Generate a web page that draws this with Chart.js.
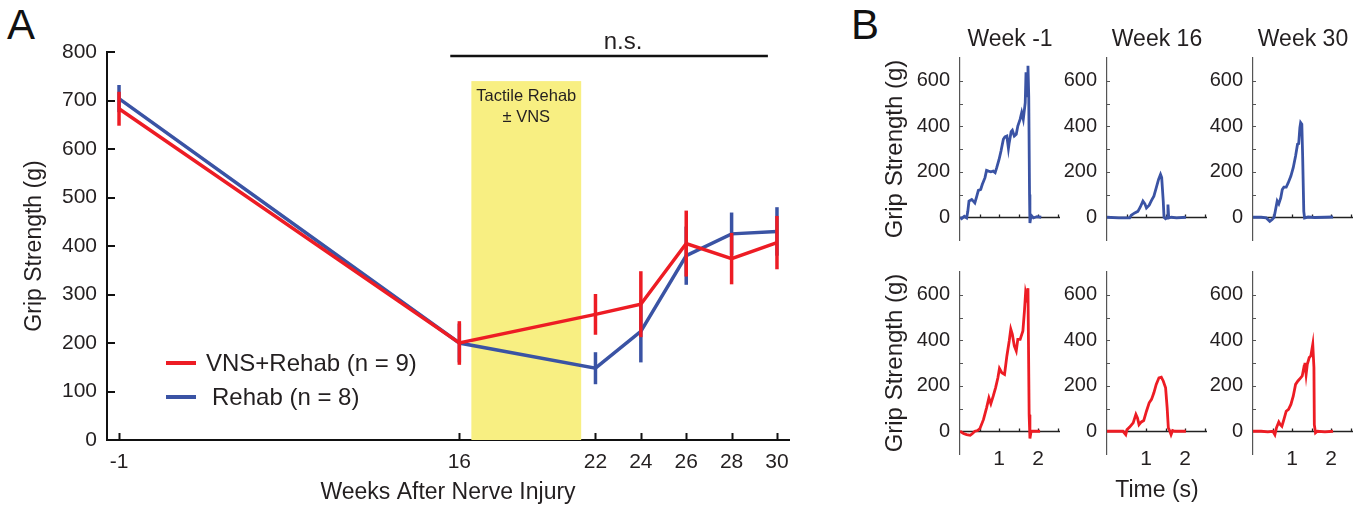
<!DOCTYPE html>
<html><head><meta charset="utf-8">
<script src="https://cdn.jsdelivr.net/npm/chart.js@4"></script>
<style>
html,body{margin:0;padding:0;background:#fff;}
body{width:1368px;height:510px;overflow:hidden;position:relative;font-family:"Liberation Sans",Arial,sans-serif;}
canvas{position:absolute;}
.lbl{position:absolute;font-size:42px;color:#111;line-height:1;}
</style></head><body>
<div class="lbl" style="left:7px;top:4px">A</div>
<div class="lbl" style="left:851px;top:4px">B</div>
<canvas id="cA" width="840" height="510" style="left:0;top:0;width:840px;height:510px"></canvas>
<canvas id="b1" width="195" height="240" style="left:880px;top:20px;width:195px;height:240px"></canvas>
<canvas id="b2" width="195" height="240" style="left:1027px;top:20px;width:195px;height:240px"></canvas>
<canvas id="b3" width="195" height="240" style="left:1173px;top:20px;width:195px;height:240px"></canvas>
<canvas id="b4" width="195" height="246" style="left:880px;top:264px;width:195px;height:246px"></canvas>
<canvas id="b5" width="195" height="246" style="left:1027px;top:264px;width:195px;height:246px"></canvas>
<canvas id="b6" width="195" height="246" style="left:1173px;top:264px;width:195px;height:246px"></canvas>
<script>
// ---------- Panel A data ----------
const weekLabels = ['-1','16','22','24','26','28','30'];
const weekPos    = [1, 16, 22, 24, 26, 28, 30];
const vnsMean    = [683, 200, 259, 280, 405, 374, 407];
const vnsSem     = [35, 45, 42, 68, 68, 53, 55];
const rehabMean  = [704, 200, 148, 224, 380, 425, 430];
const rehabSem   = [28, 40, 33, 64, 60, 44, 50];
const seriesNames = ['VNS+Rehab (n = 9)', 'Rehab (n = 8)'];
const bandRange = [16.53, 21.37];
const bandTop = 740;
const bandText = ['Tactile Rehab', '\u00b1 VNS'];
const nsRange = [15.6, 29.6];
const nsLevel = 792;
const nsText = 'n.s.';

// ---------- Panel B data (time s, grip g) ----------
const weekTitles = ['Week -1', 'Week 16', 'Week 30'];
const bW1T = [0,0.04,0.11,0.17,0.20,0.23,0.30,0.34,0.38,0.43,0.47,0.53,0.57,0.64,0.68,0.73,0.79,0.85,0.90,0.94,1.00,1.05,1.11,1.15,1.20,1.24,1.26,1.31,1.34,1.39,1.44,1.48,1.54,1.58,1.62,1.67,1.69,1.72,1.74,1.76,1.78,1.79,1.82,1.88,1.97,2.08];
const bW1V = [0,-6,4,-3,26,71,78,71,63,93,118,122,144,174,206,203,200,203,196,218,254,291,343,353,357,303,328,376,382,357,365,401,431,460,431,504,637,534,666,530,100,-25,9,-3,3,0];
const bW16T = [0,0.30,0.58,0.62,0.71,0.79,0.85,0.92,0.97,1.01,1.08,1.14,1.20,1.26,1.32,1.37,1.40,1.44,1.46,1.50,1.55,1.56,1.58,1.65,1.78,2.02];
const bW16V = [0,-3,-3,9,19,26,44,71,59,41,53,74,93,129,166,188,174,71,0,-6,0,56,-3,0,-3,0];
const bW30T = [0,0.21,0.34,0.43,0.49,0.54,0.57,0.62,0.66,0.71,0.75,0.79,0.85,0.90,0.97,1.03,1.09,1.14,1.17,1.20,1.22,1.25,1.27,1.30,1.32,1.41,1.58,1.84,2.05];
const bW30V = [0,0,-3,-18,-10,0,26,71,59,85,122,132,132,151,181,218,269,321,324,394,416,409,276,26,-3,1,-1,0,1];
const rW1T = [0,0.09,0.17,0.26,0.32,0.38,0.45,0.51,0.60,0.68,0.74,0.79,0.85,0.91,0.97,1.01,1.07,1.14,1.20,1.26,1.30,1.34,1.39,1.44,1.48,1.54,1.61,1.65,1.68,1.71,1.74,1.77,1.79,1.82,1.91,2.05];
const rW1V = [0,-10,-15,-18,-10,0,3,12,51,103,147,121,154,191,235,276,257,250,331,397,449,426,375,353,404,404,441,529,610,588,629,73,-32,0,0,0];
const rW16T = [0,0.41,0.48,0.51,0.58,0.67,0.74,0.78,0.82,0.88,0.94,1.01,1.08,1.14,1.20,1.26,1.33,1.39,1.44,1.50,1.54,1.57,1.61,1.64,1.68,1.74,1.86,2.02];
const rW16V = [0,0,-15,7,18,37,74,59,29,41,47,88,125,140,169,206,235,238,221,191,103,15,0,-15,3,0,0,0];
const rW30T = [0,0.21,0.38,0.51,0.56,0.60,0.66,0.70,0.74,0.79,0.85,0.91,0.97,1.03,1.09,1.15,1.22,1.26,1.31,1.33,1.36,1.39,1.44,1.48,1.53,1.56,1.57,1.60,1.65,1.84,2.05];
const rW30V = [0,0,-3,0,-15,15,41,29,22,51,88,96,118,154,206,221,235,243,287,301,250,294,324,331,382,279,29,-7,0,-3,0];
const timeLabelTicks = [1, 2];
const timeMinorTicks = [0.5, 1, 1.5, 2, 2.5];
const gripMinorTicks = [100, 200, 300, 400, 500, 600];

const RED = '#ed1c24', BLUE = '#3a53a4', TXT = '#231f20';
const FONT = '"Liberation Sans", Arial, Helvetica, sans-serif';
Chart.defaults.font.family = FONT;
Chart.defaults.color = TXT;
Chart.defaults.animation = false;

// ---------- plugins ----------
const errorBars = {
  id: 'errorBars',
  afterDatasetDraw(chart, args) {
    const ds = chart.data.datasets[args.index];
    if (!ds.errors) return;
    const {ctx, scales: {x, y}} = chart;
    ctx.save();
    ctx.strokeStyle = ds.borderColor; ctx.lineWidth = 3.5; ctx.lineCap = 'butt';
    ds.data.forEach((p, i) => {
      const px = x.getPixelForValue(p.x);
      ctx.beginPath();
      ctx.moveTo(px, y.getPixelForValue(p.y - ds.errors[i]));
      ctx.lineTo(px, y.getPixelForValue(p.y + ds.errors[i]));
      ctx.stroke();
    });
    ctx.restore();
  }
};

const panelADecor = {
  id: 'panelADecor',
  beforeDatasetsDraw(chart) {
    const {ctx, scales: {x, y}} = chart;
    const x1 = x.getPixelForValue(bandRange[0]), x2 = x.getPixelForValue(bandRange[1]);
    const yt = y.getPixelForValue(bandTop), yb = y.getPixelForValue(0);
    ctx.save();
    ctx.fillStyle = '#f8ef82';
    ctx.fillRect(x1, yt, x2 - x1, yb - yt);
    ctx.fillStyle = TXT; ctx.font = '16.5px ' + FONT;
    ctx.textAlign = 'center'; ctx.textBaseline = 'middle';
    ctx.fillText(bandText[0], (x1 + x2) / 2, yt + 15);
    ctx.fillText(bandText[1], (x1 + x2) / 2, yt + 36);
    ctx.restore();
  },
  afterDraw(chart) {
    const {ctx, scales: {x, y}} = chart;
    const area = chart.chartArea;
    ctx.save();
    ctx.strokeStyle = '#111'; ctx.lineWidth = 2;
    x.ticks.forEach(t => {
      const px = Math.round(x.getPixelForValue(t.value)) + 0.5;
      ctx.beginPath(); ctx.moveTo(px, area.bottom); ctx.lineTo(px, area.bottom - 7); ctx.stroke();
    });
    y.ticks.forEach(t => {
      const py = Math.round(y.getPixelForValue(t.value));
      ctx.beginPath(); ctx.moveTo(area.left, py); ctx.lineTo(area.left + 8, py); ctx.stroke();
    });
    const ny = y.getPixelForValue(nsLevel);
    ctx.lineWidth = 2.5;
    ctx.beginPath(); ctx.moveTo(x.getPixelForValue(nsRange[0]), ny); ctx.lineTo(x.getPixelForValue(nsRange[1]), ny); ctx.stroke();
    ctx.fillStyle = TXT; ctx.font = '24px ' + FONT; ctx.textAlign = 'center'; ctx.textBaseline = 'middle';
    ctx.fillText(nsText, (x.getPixelForValue(nsRange[0]) + x.getPixelForValue(nsRange[1])) / 2 + 14, ny - 14);
    ctx.textAlign = 'left';
    const legY = [363, 397], legTx = [206, 212];
    chart.data.datasets.forEach((ds, i) => {
      ctx.strokeStyle = ds.borderColor; ctx.lineWidth = 4;
      ctx.beginPath(); ctx.moveTo(166, legY[i]); ctx.lineTo(196, legY[i]); ctx.stroke();
      ctx.fillStyle = TXT; ctx.font = '24px ' + FONT;
      ctx.fillText(ds.label, legTx[i], legY[i] + 1);
    });
    ctx.restore();
  }
};

// ---------- Panel A ----------
new Chart(document.getElementById('cA'), {
  type: 'line',
  data: {
    datasets: [
      {label: seriesNames[0], data: weekPos.map((p, i) => ({x: p, y: vnsMean[i]})), errors: vnsSem,
       borderColor: RED, backgroundColor: RED, borderWidth: 3.5, pointRadius: 0, tension: 0, clip: false},
      {label: seriesNames[1], data: weekPos.map((p, i) => ({x: p, y: rehabMean[i]})), errors: rehabSem,
       borderColor: BLUE, backgroundColor: BLUE, borderWidth: 3.5, pointRadius: 0, tension: 0, clip: false}
    ]
  },
  options: {
    responsive: false,
    layout: {padding: {left: 0, top: 52, right: 51, bottom: 0}},
    plugins: {legend: {display: false}, tooltip: {enabled: false}},
    scales: {
      x: {
        type: 'linear', min: 0.47, max: 30.53,
        afterBuildTicks: s => { s.ticks = weekPos.map(v => ({value: v})); },
        ticks: {callback: v => weekLabels[weekPos.indexOf(v)], autoSkip: false, maxRotation: 0, padding: 10, font: {size: 21}, color: TXT},
        grid: {color: 'transparent', drawTicks: false},
        border: {display: true, color: '#111', width: 2},
        title: {display: true, text: 'Weeks After Nerve Injury', font: {size: 23}, color: TXT, padding: {top: 0, bottom: 4}},
        afterFit: s => { s.height = 70; s.paddingLeft = 0; s.paddingRight = 0; }
      },
      y: {
        min: 0, max: 800,
        ticks: {stepSize: 100, autoSkip: false, padding: 10, font: {size: 21}, color: TXT},
        grid: {color: 'transparent', drawTicks: false},
        border: {display: true, color: '#111', width: 2},
        title: {display: true, text: 'Grip Strength (g)', font: {size: 23}, color: TXT, padding: {top: 21, bottom: 0}},
        afterFit: s => { s.width = 107; s.paddingTop = 0; s.paddingBottom = 0; }
      }
    }
  },
  plugins: [errorBars, panelADecor]
});

// ---------- Panel B ----------
const smallAxes = {
  id: 'smallAxes',
  beforeDatasetsDraw(chart, args, opts) {
    const {ctx, scales: {x, y}} = chart;
    const area = chart.chartArea;
    const y0 = Math.round(y.getPixelForValue(0)) + 0.5;
    ctx.save();
    ctx.strokeStyle = '#222'; ctx.lineWidth = 1.3;
    ctx.beginPath(); ctx.moveTo(area.left, y0); ctx.lineTo(area.right, y0); ctx.stroke();
    timeMinorTicks.forEach(t => {
      const px = Math.round(x.getPixelForValue(t)) + 0.5;
      ctx.beginPath(); ctx.moveTo(px, y0); ctx.lineTo(px, y0 - 3); ctx.stroke();
    });
    ctx.strokeStyle = '#555'; ctx.lineWidth = 1;
    gripMinorTicks.forEach(v => {
      const py = Math.round(y.getPixelForValue(v)) + 0.5;
      ctx.beginPath(); ctx.moveTo(area.left, py); ctx.lineTo(area.left + 3, py); ctx.stroke();
    });
    if (opts.timeLabels) {
      ctx.fillStyle = TXT; ctx.font = '21px ' + FONT;
      ctx.textAlign = 'center'; ctx.textBaseline = 'middle';
      timeLabelTicks.forEach(t => ctx.fillText(String(t), x.getPixelForValue(t), area.bottom + 5));
    }
    ctx.restore();
  }
};

function smallChart(id, t, v, color, o) {
  new Chart(document.getElementById(id), {
    type: 'line',
    data: {datasets: [{data: t.map((x, i) => ({x: x, y: v[i]})), borderColor: color, borderWidth: 2.8, pointRadius: 0, tension: 0}]},
    options: {
      responsive: false,
      layout: {padding: {left: 0, right: 15, top: o.top ? 0 : 8, bottom: 0}},
      plugins: {
        legend: {display: false}, tooltip: {enabled: false},
        title: {display: !!o.title, text: o.title || '', fullSize: false, font: {size: 23, weight: 'normal'}, color: TXT, padding: {top: 6, bottom: 4.4}},
        smallAxes: {timeLabels: !o.top}
      },
      scales: {
        x: {
          type: 'linear', min: 0, max: 2.56,
          ticks: {display: false},
          grid: {color: 'transparent', drawTicks: false},
          border: {display: false},
          title: {display: !!o.xTitle, text: o.xTitle || '', font: {size: 23}, color: TXT, padding: {top: 0, bottom: 6}},
          afterFit: s => { s.height = o.top ? 20 : 56; s.paddingLeft = 0; s.paddingRight = 0; }
        },
        y: {
          min: -100, max: 700,
          ticks: {stepSize: 100, autoSkip: false, padding: 10, font: {size: 20}, color: TXT,
                  callback: val => (val >= 0 && val % 200 === 0) ? val : ''},
          grid: {color: 'transparent', drawTicks: false},
          border: {display: true, color: '#555', width: 1.2},
          title: {display: !!o.yTitle, text: 'Grip Strength (g)', font: {size: 24}, color: TXT, padding: {top: 1, bottom: 0}},
          afterFit: s => { s.width = 80; s.paddingTop = 0; s.paddingBottom = 0; }
        }
      }
    },
    plugins: [smallAxes]
  });
}

smallChart('b1', bW1T, bW1V, BLUE, {top: true, title: weekTitles[0], yTitle: true});
smallChart('b2', bW16T, bW16V, BLUE, {top: true, title: weekTitles[1]});
smallChart('b3', bW30T, bW30V, BLUE, {top: true, title: weekTitles[2]});
smallChart('b4', rW1T, rW1V, RED, {yTitle: true});
smallChart('b5', rW16T, rW16V, RED, {xTitle: 'Time (s)'});
smallChart('b6', rW30T, rW30V, RED, {});
</script>
</body></html>
